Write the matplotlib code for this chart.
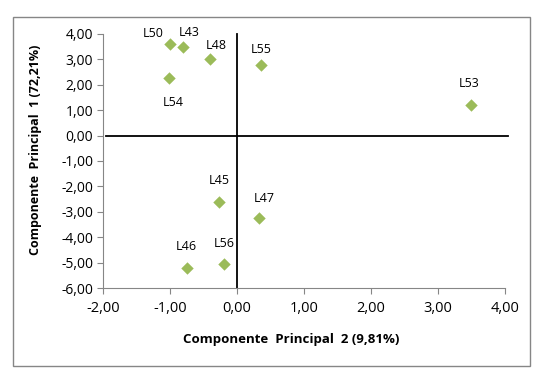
import matplotlib
matplotlib.use("Agg")
import matplotlib.pyplot as plt
from matplotlib.patches import Rectangle
from matplotlib.ticker import FuncFormatter

labels = ["L50", "L43", "L48", "L54", "L55", "L53", "L45", "L47", "L46", "L56"]
comp2 = [-1.00, -0.80, -0.40, -1.01, 0.36, 3.49, -0.27, 0.33, -0.75, -0.19]
comp1 = [3.60, 3.47, 3.00, 2.25, 2.77, 1.22, -2.60, -3.24, -5.20, -5.07]
# label offsets in points (dx, dy)
offsets = [(-12, 8), (4, 11), (4, 10), (3, -17), (0, 11), (-1, 15), (0, 15), (4, 14), (0, 15), (0, 15)]

plt.rcParams['font.family'] = ['Open Sans', 'DejaVu Sans']

fig = plt.figure(figsize=(5.4, 3.69), dpi=100)
ax = fig.add_axes([103 / 540, 1 - 288 / 369, (505 - 103) / 540, (288 - 34) / 369])

ax.scatter(comp2, comp1, marker='D', s=40, color='#9BBB59', zorder=3, linewidths=0)
for lab, x, y, (dx, dy) in zip(labels, comp2, comp1, offsets):
    ax.annotate(lab, (x, y), xytext=(dx, dy), textcoords='offset points',
                ha='center', va='center', fontsize=9)

# quadrant lines
ax.plot([-1.95, 4.04], [0, 0], color='black', lw=1.3, clip_on=False, zorder=2)
ax.plot([0, 0], [-6, 4], color='black', lw=1.3, clip_on=False, zorder=2)

ax.set_xlim(-2, 4)
ax.set_ylim(-6, 4)
ax.set_xticks(range(-2, 5))
ax.set_yticks(range(-6, 5))
fmt = FuncFormatter(lambda v, p: f"{v:.2f}".replace('.', ','))
ax.xaxis.set_major_formatter(fmt)
ax.yaxis.set_major_formatter(fmt)
ax.tick_params(axis='x', labelsize=10.5, length=4, color='#868686', pad=5)
ax.tick_params(axis='y', labelsize=10, length=4, color='#868686', pad=3)
for s in ['top', 'right']:
    ax.spines[s].set_visible(False)
for s in ['left', 'bottom']:
    ax.spines[s].set_color('#868686')

ax.set_xlabel("Componente  Principal  2 (9,81%)", fontsize=9.5, fontweight='bold')
ax.set_ylabel("Componente  Principal  1 (72,21%)", fontsize=9, fontweight='bold')
ax.xaxis.set_label_coords(0.468, -0.178)
ax.yaxis.set_label_coords(-0.152, 0.543)

fig.patches.append(Rectangle((13 / 540, 1 - 366 / 369), 517 / 540, 349 / 369,
                             transform=fig.transFigure, fill=False, edgecolor='#868686', lw=1))

fig.savefig("out.png", dpi=100)
